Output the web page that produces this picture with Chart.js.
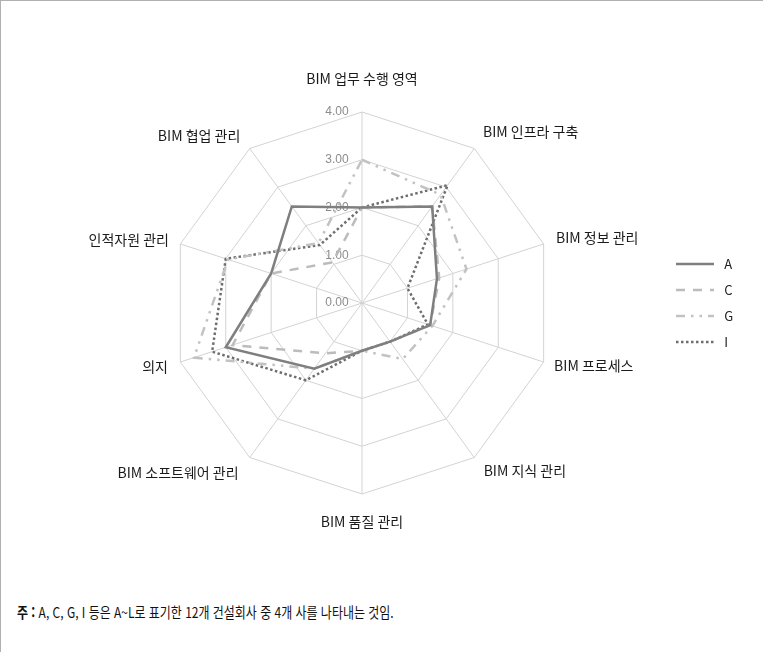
<!DOCTYPE html>
<html lang="ko">
<head>
<meta charset="utf-8">
<title>BIM 역량 레이더 차트</title>
<script src="https://cdn.jsdelivr.net/npm/chart.js@4/dist/chart.umd.min.js"></script>
<style>
    html, body { margin: 0; padding: 0; background: #fff; }
    #frame {
        position: relative;
        width: 763px;
        height: 652px;
        box-sizing: border-box;
        border-left: 1px solid #b0b0b0;
        border-top: 1px solid #b0b0b0;
        overflow: hidden;
    }
    #chartBox { position: absolute; left: 0; top: 0; width: 763px; height: 560px; }
    #note {
        position: absolute;
        left: 16px;
        top: 600px;
        font-family: "Noto Sans CJK KR", sans-serif;
        font-size: 14.5px;
        color: #111;
        white-space: nowrap;
        transform-origin: left center;
    }
    #note b { font-weight: 700; }
</style>
</head>
<body>
<div id="frame">
    <div id="chartBox"><canvas id="radarChart"></canvas></div>
    <div id="note"><b>주 :</b> A, C, G, I 등은 A~L로 표기한 12개 건설회사 중 4개 사를 나타내는 것임.</div>
</div>
<script>
// categories, clockwise from the top
const categories = ['BIM 업무 수행 영역', 'BIM 인프라 구축', 'BIM 정보 관리', 'BIM 프로세스', 'BIM 지식 관리',
    'BIM 품질 관리', 'BIM 소프트웨어 관리', '의지', '인적자원 관리', 'BIM 협업 관리'];
const seriesNames = ['A', 'C', 'G', 'I'];
const valuesA = [2.0, 2.5, 1.65, 1.5, 1.0, 1.0, 1.7, 3.0, 2.0, 2.5];
const valuesC = [2.0, 2.5, 1.7, 1.5, 1.0, 1.0, 1.3, 2.85, 2.0, 1.05];
const valuesG = [3.0, 2.8, 2.3, 1.55, 1.45, 1.0, 1.7, 3.7, 2.95, 1.55];
const valuesI = [2.0, 3.05, 1.0, 1.45, 1.0, 1.0, 2.0, 3.3, 3.0, 1.5];
const tickValues = [0, 1, 2, 3, 4];

// label placement tweaks (per axis)
const labelPadding = [18, 6.9, 5, 3, 8, 8.5, 11, 5, 4, 8];
const labelLineHeight = ['14px', '8.8px', '4px', '0.5px', '0.5px', '23px', '0.5px', '0.5px', '1px', '0.5px'];

document.addEventListener('DOMContentLoaded', function() {
    const ctx = document.getElementById('radarChart').getContext('2d');
    const styles = [
        { color: '#7f7f7f', dash: [] },
        { color: '#bcbcbc', dash: [9, 8] },
        { color: '#c2c2c2', dash: [9, 6, 2.5, 6, 2.5, 6] },
        { color: '#6e6e6e', dash: [2.5, 2.5] }
    ];
    const allValues = [valuesA, valuesC, valuesG, valuesI];

    window.radarChart = new Chart(ctx, {
        type: 'radar',
        data: {
            labels: categories,
            datasets: seriesNames.map(function(name, i) {
                return {
                    label: name,
                    data: allValues[i],
                    borderColor: styles[i].color,
                    backgroundColor: 'transparent',
                    borderWidth: 2.5,
                    borderDash: styles[i].dash,
                    borderCapStyle: 'butt',
                    borderJoinStyle: 'miter',
                    fill: false,
                    tension: 0,
                    pointRadius: 0,
                    pointHoverRadius: 0
                };
            })
        },
        options: {
            responsive: true,
            maintainAspectRatio: false,
            animation: false,
            layout: { padding: { left: 64, right: 23, top: 71, bottom: 27 } },
            plugins: {
                legend: {
                    position: 'right',
                    maxWidth: 78,
                    labels: {
                        usePointStyle: true,
                        pointStyle: 'line',
                        pointStyleWidth: 38,
                        padding: 13,
                        color: '#222',
                        font: { family: 'Noto Sans CJK KR', size: 13 },
                        generateLabels: function(chart) {
                            const items = Chart.defaults.plugins.legend.labels.generateLabels(chart);
                            items.forEach(function(it) {
                                const ds = chart.data.datasets[it.datasetIndex];
                                it.text = ' ' + it.text;
                                it.lineDash = ds.borderDash;
                                it.lineWidth = ds.borderWidth;
                                it.strokeStyle = ds.borderColor;
                                it.lineCap = 'butt';
                            });
                            return items;
                        }
                    }
                },
                tooltip: { enabled: false }
            },
            scales: {
                r: {
                    min: -0.001,
                    max: 4,
                    afterBuildTicks: function(scale) {
                        scale.ticks = tickValues.map(function(v) { return { value: v }; });
                    },
                    ticks: {
                        showLabelBackdrop: false,
                        color: '#8c8c8c',
                        font: { family: 'Liberation Sans', size: 12 },
                        // non-breaking spaces push the label to the left of the axis
                        callback: function(v) { return v.toFixed(2) + '\u00A0'.repeat(15); }
                    },
                    grid: { color: '#d3d3d3', lineWidth: 1 },
                    angleLines: { color: '#d3d3d3', lineWidth: 1 },
                    pointLabels: {
                        color: '#1a1a1a',
                        padding: function(c) { return labelPadding[c.index]; },
                        font: function(c) {
                            return { family: 'Noto Sans CJK KR', size: 14, lineHeight: labelLineHeight[c.index] };
                        }
                    }
                }
            }
        }
    });

    const note = document.getElementById('note');
    note.style.transform = 'scaleX(' + (377 / note.offsetWidth) + ')';
});
</script>
</body>
</html>
